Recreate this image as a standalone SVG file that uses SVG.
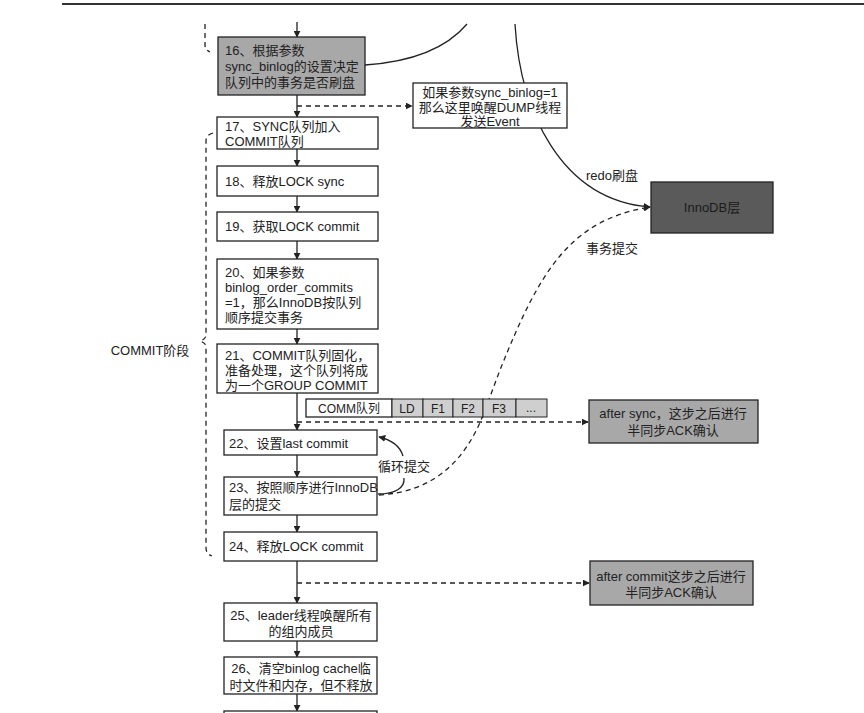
<svg xmlns="http://www.w3.org/2000/svg" width="864" height="713" viewBox="0 0 864 713">
<defs>
<marker id="ah" viewBox="0 0 10 10" refX="9" refY="5" markerWidth="7" markerHeight="7" orient="auto" markerUnits="userSpaceOnUse">
<path d="M0,0 L10,5 L0,10 z" fill="#222"/>
</marker>
<style>
text{font-family:"Liberation Sans","Noto Sans CJK SC",sans-serif;font-size:13px;fill:#222}
.box{fill:#fff;stroke:#222;stroke-width:1.3}
.gray{fill:#a8a8a8;stroke:#222;stroke-width:1.3}
.cell{fill:#cfcfcf;stroke:#222;stroke-width:1}
.ln{fill:none;stroke:#222;stroke-width:1.3}
.dash{fill:none;stroke:#222;stroke-width:1.3;stroke-dasharray:5,4}
.c{text-anchor:middle}
.s{font-size:12px}
</style>
</defs>
<rect width="864" height="713" fill="#fff"/>
<line x1="62" y1="4" x2="864" y2="4" stroke="#333" stroke-width="2"/>

<g id="connectors">
<line class="ln" x1="297" y1="22" x2="297" y2="37" marker-end="url(#ah)"/>
<line class="ln" x1="297" y1="95" x2="297" y2="117" marker-end="url(#ah)"/>
<line class="dash" x1="297" y1="106" x2="412" y2="106" marker-end="url(#ah)"/>
<line class="ln" x1="297" y1="149" x2="297" y2="166" marker-end="url(#ah)"/>
<line class="ln" x1="297" y1="196" x2="297" y2="212" marker-end="url(#ah)"/>
<line class="ln" x1="297" y1="241" x2="297" y2="259" marker-end="url(#ah)"/>
<line class="ln" x1="297" y1="329" x2="297" y2="344" marker-end="url(#ah)"/>
<line class="ln" x1="297" y1="393" x2="297" y2="430" marker-end="url(#ah)"/>
<line class="dash" x1="297" y1="422" x2="588" y2="422" marker-end="url(#ah)"/>
<line class="ln" x1="297" y1="455" x2="297" y2="477" marker-end="url(#ah)"/>
<line class="ln" x1="297" y1="515" x2="297" y2="532" marker-end="url(#ah)"/>
<line class="ln" x1="297" y1="561" x2="297" y2="603" marker-end="url(#ah)"/>
<line class="dash" x1="297" y1="583" x2="589" y2="583" marker-end="url(#ah)"/>
<line class="ln" x1="297" y1="641" x2="297" y2="657" marker-end="url(#ah)"/>
<line class="ln" x1="297" y1="694" x2="297" y2="711" marker-end="url(#ah)"/>
<path class="ln" d="M365,65 C410,62 445,50 467,24"/>
<path class="ln" d="M515,24 C520,110 560,200 650,207" marker-end="url(#ah)"/>
<path class="dash" d="M379,495 C430,492 465,465 485,410 L500,370 C540,270 570,220 650,207" marker-end="url(#ah)"/>
<path class="ln" d="M378,494 C395,494 405,488 404,478"/>
<path class="ln" d="M403,456 C400,446 392,440 379,437" marker-end="url(#ah)"/>
<path class="dash" d="M205,24 L205,45 Q205,50 210,52"/>
<path class="dash" d="M213,133 Q206,135 206,141 L206,335 Q206,339 200,341 Q206,343 206,347 L206,548 Q206,554 212,556"/>
</g>

<g id="n16"><rect class="gray" x="218" y="37" width="147" height="58"/>
<text x="225" y="55">16、根据参数</text><text x="225" y="71">sync_binlog的设置决定</text><text x="225" y="87">队列中的事务是否刷盘</text></g>
<g id="dump"><rect class="box" x="413" y="83" width="154" height="45"/>
<text class="c" x="490" y="97">如果参数sync_binlog=1</text><text class="c" x="490" y="111.5">那么这里唤醒DUMP线程</text><text class="c" x="490" y="126">发送Event</text></g>
<g id="innodb"><rect x="651" y="182" width="122" height="51" fill="#5a5a5a" stroke="#222" stroke-width="1.3"/>
<text class="c" x="712" y="212" style="fill:#1a1a1a">InnoDB层</text></g>
<text class="c" x="612" y="180">redo刷盘</text>
<text class="c" x="612" y="253">事务提交</text>

<g id="n17"><rect class="box" x="217" y="117" width="161" height="32"/>
<text x="225" y="131">17、SYNC队列加入</text><text x="225" y="146">COMMIT队列</text></g>
<g id="n18"><rect class="box" x="217" y="166" width="161" height="30"/>
<text x="225" y="186">18、释放LOCK sync</text></g>
<g id="n19"><rect class="box" x="217" y="212" width="161" height="29"/>
<text x="225" y="231">19、获取LOCK commit</text></g>
<g id="n20"><rect class="box" x="217" y="259" width="161" height="70"/>
<text x="225" y="277">20、如果参数</text><text x="225" y="292">binlog_order_commits</text><text x="225" y="307">=1，那么InnoDB按队列</text><text x="225" y="322">顺序提交事务</text></g>
<g id="n21"><rect class="box" x="217" y="344" width="161" height="49"/>
<text x="225" y="360">21、COMMIT队列固化，</text><text x="225" y="375">准备处理，这个队列将成</text><text x="225" y="390">为一个GROUP COMMIT</text></g>
<text x="150" y="355" class="c">COMMIT阶段</text>

<g id="commq">
<rect class="box" x="306" y="399" width="86" height="18"/>
<rect class="cell" x="392" y="399" width="31" height="18"/>
<rect class="cell" x="423" y="399" width="30" height="18"/>
<rect class="cell" x="453" y="399" width="30" height="18"/>
<rect class="cell" x="483" y="399" width="33" height="18"/>
<rect class="cell" x="516" y="399" width="31" height="18"/>
<text class="c s" x="349" y="413">COMM队列</text>
<text class="c s" x="407" y="413">LD</text>
<text class="c s" x="438" y="413">F1</text>
<text class="c s" x="468" y="413">F2</text>
<text class="c s" x="499" y="413">F3</text>
<text class="c s" x="531" y="412">...</text>
</g>
<g id="aftersync"><rect class="gray" x="589" y="400" width="169" height="43"/>
<text class="c" x="673" y="418">after sync，这步之后进行</text><text class="c" x="673" y="435">半同步ACK确认</text></g>

<g id="n22"><rect class="box" x="224" y="430" width="153" height="25"/>
<text x="229" y="448">22、设置last commit</text></g>
<text class="c" x="404" y="471">循环提交</text>
<g id="n23"><rect class="box" x="224" y="477" width="153" height="38"/>
<text x="229" y="492">23、按照顺序进行InnoDB</text><text x="229" y="509">层的提交</text></g>
<g id="n24"><rect class="box" x="224" y="532" width="153" height="29"/>
<text x="229" y="551">24、释放LOCK commit</text></g>
<g id="aftercommit"><rect class="gray" x="590" y="561" width="163" height="44"/>
<text class="c" x="671" y="581">after commit这步之后进行</text><text class="c" x="671" y="597">半同步ACK确认</text></g>
<g id="n25"><rect class="box" x="224" y="603" width="153" height="38"/>
<text class="c" x="301" y="620">25、leader线程唤醒所有</text><text class="c" x="301" y="636">的组内成员</text></g>
<g id="n26"><rect class="box" x="224" y="657" width="153" height="37"/>
<text class="c" x="301" y="673">26、清空binlog cache临</text><text class="c" x="301" y="690">时文件和内存，但不释放</text></g>
<g id="n27"><rect class="box" x="224" y="711" width="153" height="20"/></g>
</svg>
